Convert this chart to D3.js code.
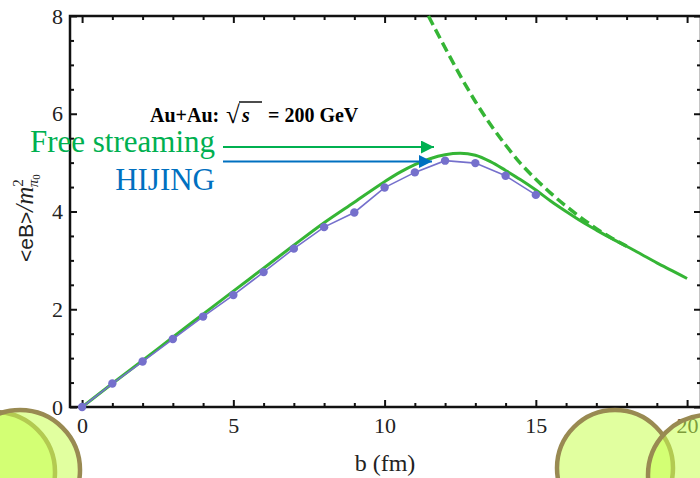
<!DOCTYPE html>
<html>
<head>
<meta charset="utf-8">
<script src="https://cdn.jsdelivr.net/npm/d3@7"></script>
<style>
  body { margin: 0; background: #fff; }
  svg { display: block; }
  .tick text { font-family: "Liberation Serif", "Times New Roman", serif; font-size: 22px; fill: #222; }
</style>
</head>
<body>
<svg class="visual" width="700" height="478"></svg>
<script>
// HIJING points (b in fm, <eB>/m^2)
const hijingB = [0, 1, 2, 3, 4, 5, 6, 7, 8, 9, 10, 11, 12, 13, 14, 15];
const hijingVal = [0, 0.48, 0.93, 1.39, 1.85, 2.29, 2.76, 3.24, 3.68, 3.98, 4.49, 4.80, 5.04, 4.99, 4.73, 4.34];

// Free streaming solid curve
const freeB = [0, 1, 2, 3, 4, 5, 6, 7, 8, 9, 10, 10.5, 11, 11.5, 12, 12.5, 13, 13.5, 14, 14.5, 15, 15.5, 16, 16.5, 17, 17.5, 18, 18.5, 19, 19.5, 20];
const freeVal = [0, 0.48, 0.95, 1.43, 1.90, 2.37, 2.84, 3.31, 3.77, 4.19, 4.61, 4.80, 4.96, 5.08, 5.16, 5.19, 5.15, 5.02, 4.84, 4.65, 4.44, 4.21, 4.00, 3.80, 3.62, 3.45, 3.29, 3.12, 2.95, 2.79, 2.63];

// Free streaming dashed (large b) curve
const dashB = [11.45, 12, 12.5, 13, 13.5, 14, 14.5, 15, 15.5, 16, 16.5, 17, 17.5, 18];
const dashVal = [8.0, 7.35, 6.78, 6.25, 5.78, 5.36, 4.98, 4.66, 4.37, 4.11, 3.87, 3.65, 3.46, 3.29];

const xMajor = [0, 5, 10, 15, 20];
const yMajor = [0, 2, 4, 6, 8];

const svg = d3.select(".visual");

// plot frame
const frame = {left: 70, right: 701, top: 16, bottom: 407};
const x = d3.scaleLinear().domain([-0.4, 20.46]).range([frame.left, frame.right]);
const y = d3.scaleLinear().domain([0, 8]).range([frame.bottom, frame.top]);

const xMinor = d3.range(0, 21, 1).filter(d => d % 5 !== 0);
const yMinor = d3.range(0, 8.01, 0.5).filter(d => d % 2 !== 0);

// axes with inward ticks
function styleAxis(g) {
  g.select(".domain").remove();
  g.selectAll(".tick line").attr("stroke", "#111").attr("stroke-width", 2);
}

svg.append("g").attr("transform", `translate(0,${frame.bottom})`)
  .call(d3.axisBottom(x).tickValues(xMajor).tickSize(-7).tickPadding(10).tickFormat(d3.format("d")))
  .call(styleAxis);
svg.append("g").attr("transform", `translate(0,${frame.bottom})`)
  .call(d3.axisBottom(x).tickValues(xMinor).tickSize(-4).tickFormat(""))
  .call(styleAxis);
svg.append("g").attr("transform", `translate(0,${frame.top})`)
  .call(d3.axisTop(x).tickValues(xMajor).tickSize(-7).tickFormat(""))
  .call(styleAxis);
svg.append("g").attr("transform", `translate(0,${frame.top})`)
  .call(d3.axisTop(x).tickValues(xMinor).tickSize(-4).tickFormat(""))
  .call(styleAxis);

svg.append("g").attr("transform", `translate(${frame.left},0)`)
  .call(d3.axisLeft(y).tickValues(yMajor).tickSize(-7).tickPadding(7).tickFormat(d3.format("d")))
  .call(styleAxis);
svg.append("g").attr("transform", `translate(${frame.left},0)`)
  .call(d3.axisLeft(y).tickValues(yMinor).tickSize(-4).tickFormat(""))
  .call(styleAxis);
svg.append("g").attr("transform", `translate(${frame.right},0)`)
  .call(d3.axisRight(y).tickValues(yMajor).tickSize(-7).tickFormat(""))
  .call(styleAxis);
svg.append("g").attr("transform", `translate(${frame.right},0)`)
  .call(d3.axisRight(y).tickValues(yMinor).tickSize(-4).tickFormat(""))
  .call(styleAxis);

svg.append("rect")
  .attr("x", frame.left).attr("y", frame.top)
  .attr("width", frame.right - frame.left).attr("height", frame.bottom - frame.top)
  .attr("fill", "none").attr("stroke", "#111").attr("stroke-width", 2.5);

// curves
const line = d3.line().x(d => x(d[0])).y(d => y(d[1])).curve(d3.curveMonotoneX);

svg.append("path")
  .datum(dashB.map((b, i) => [b, dashVal[i]]))
  .attr("d", line)
  .attr("fill", "none").attr("stroke", "#35b535").attr("stroke-width", 3.5)
  .attr("stroke-dasharray", "10,5");

svg.append("path")
  .datum(freeB.map((b, i) => [b, freeVal[i]]))
  .attr("d", line)
  .attr("fill", "none").attr("stroke", "#35b535").attr("stroke-width", 3);

const hij = hijingB.map((b, i) => [b, hijingVal[i]]);
svg.append("path")
  .datum(hij)
  .attr("d", d3.line().x(d => x(d[0])).y(d => y(d[1])))
  .attr("fill", "none").attr("stroke", "#7570cc").attr("stroke-width", 1.6);

svg.selectAll("circle.hij")
  .data(hij)
  .join("circle")
  .attr("class", "hij")
  .attr("cx", d => x(d[0])).attr("cy", d => y(d[1]))
  .attr("r", 4.2)
  .attr("fill", "#7570cc");

// annotation text
const serif = "'Liberation Serif', 'Times New Roman', serif";

svg.append("text").attr("x", 150).attr("y", 122)
  .attr("font-family", serif).attr("font-weight", "bold").attr("font-size", 20)
  .text("Au+Au:");
svg.append("text").attr("x", 226).attr("y", 123)
  .attr("font-family", serif).attr("font-weight", "bold").attr("font-size", 25)
  .text("√");
svg.append("text").attr("x", 242).attr("y", 122)
  .attr("font-family", serif).attr("font-weight", "bold").attr("font-style", "italic").attr("font-size", 20)
  .text("s");
svg.append("line").attr("x1", 239).attr("x2", 262).attr("y1", 102).attr("y2", 102)
  .attr("stroke", "#111").attr("stroke-width", 1.5);
svg.append("text").attr("x", 268).attr("y", 122)
  .attr("font-family", serif).attr("font-weight", "bold").attr("font-size", 20)
  .text("= 200 GeV");

svg.append("text").attr("x", 215).attr("y", 152)
  .attr("text-anchor", "end")
  .attr("font-family", serif).attr("font-size", 31).attr("fill", "#00b050")
  .text("Free streaming");
svg.append("text").attr("x", 215).attr("y", 190)
  .attr("text-anchor", "end")
  .attr("font-family", serif).attr("font-size", 31).attr("fill", "#0070c0")
  .text("HIJING");

// arrows
const defs = svg.append("defs");
[["arrG", "#00b050"], ["arrB", "#0070c0"]].forEach(([id, c]) => {
  defs.append("marker").attr("id", id)
    .attr("viewBox", "0 0 10 10").attr("refX", 10).attr("refY", 5)
    .attr("markerWidth", 8).attr("markerHeight", 6.5)
    .attr("markerUnits", "strokeWidth").attr("orient", "auto")
    .append("path").attr("d", "M0,0L10,5L0,10Z").attr("fill", c);
});
svg.append("line").attr("x1", 223).attr("x2", 434).attr("y1", 147).attr("y2", 147)
  .attr("stroke", "#00b050").attr("stroke-width", 2).attr("marker-end", "url(#arrG)");
svg.append("line").attr("x1", 223).attr("x2", 432).attr("y1", 161.5).attr("y2", 161.5)
  .attr("stroke", "#0070c0").attr("stroke-width", 2).attr("marker-end", "url(#arrB)");

// axis titles
svg.append("text").attr("x", 385).attr("y", 471)
  .attr("text-anchor", "middle")
  .attr("font-family", serif).attr("font-size", 24).attr("fill", "#222")
  .text("b (fm)");

const yl = svg.append("text")
  .attr("transform", "translate(33,262) rotate(-90)")
  .attr("font-size", 21).attr("fill", "#222");
yl.append("tspan").attr("font-family", "'Liberation Sans', Arial, sans-serif").text("<eB>");
yl.append("tspan").attr("font-family", serif).attr("font-style", "italic").attr("font-size", 25).text("/m");
yl.append("tspan").attr("font-family", serif).attr("font-size", 15).attr("dy", -10).text("2");
yl.append("tspan").attr("font-family", serif).attr("font-style", "italic").attr("font-size", 15).attr("dx", -8).attr("dy", 15).text("π");
yl.append("tspan").attr("font-family", serif).attr("font-size", 11).attr("dy", 2).text("0");

// decorative circles overlaid on the figure
const bubbles = [[-5, 472, 60], [20, 470, 60], [615, 468, 58], [708, 475, 60]];
svg.selectAll("circle.bubble")
  .data(bubbles)
  .join("circle")
  .attr("class", "bubble")
  .attr("cx", d => d[0]).attr("cy", d => d[1]).attr("r", d => d[2])
  .attr("fill", "#c8ff50").attr("fill-opacity", 0.55)
  .attr("stroke", "#998a52").attr("stroke-width", 4.5);
</script>
</body>
</html>
